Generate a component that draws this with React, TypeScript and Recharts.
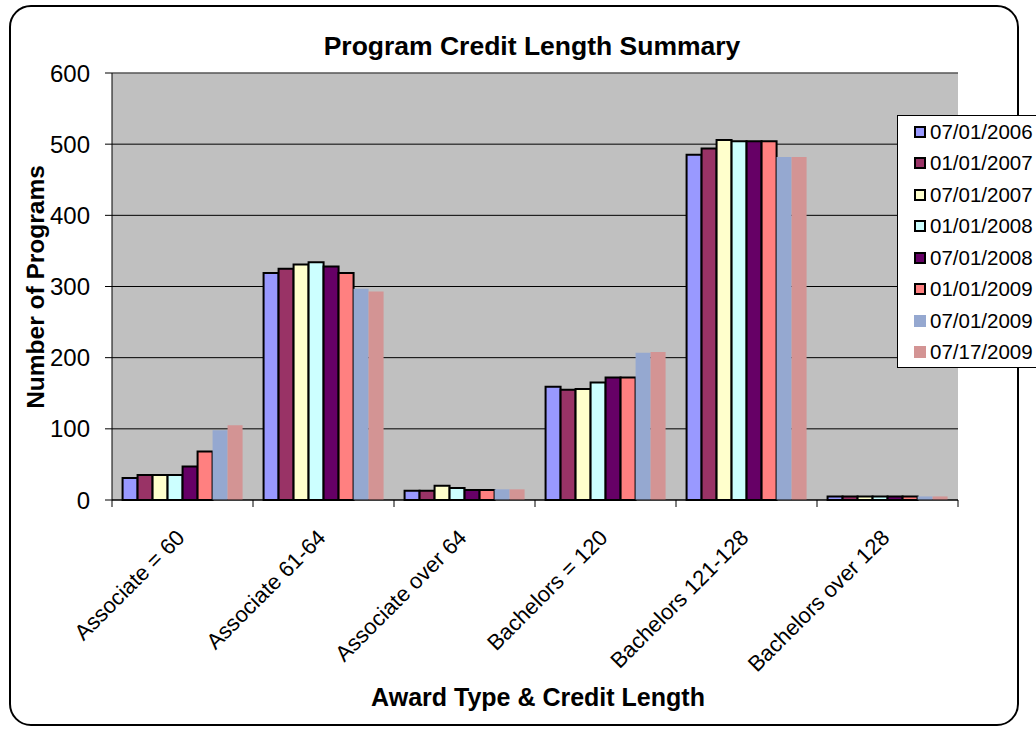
import React from 'react';
import { BarChart, Bar, XAxis, YAxis, CartesianGrid, ReferenceLine } from 'recharts';

const categories = [
  'Associate = 60',
  'Associate 61-64',
  'Associate over 64',
  'Bachelors = 120',
  'Bachelors 121-128',
  'Bachelors over 128',
];

const seriesNames = [
  '07/01/2006',
  '01/01/2007',
  '07/01/2007',
  '01/01/2008',
  '07/01/2008',
  '01/01/2009',
  '07/01/2009',
  '07/17/2009',
];

const v20060701 = [31, 319, 13, 159, 485, 5];
const v20070101 = [35, 325, 13, 155, 494, 5];
const v20070701 = [35, 331, 20, 156, 506, 5];
const v20080101 = [35, 334, 17, 165, 504, 5];
const v20080701 = [47, 328, 14, 172, 504, 5];
const v20090101 = [68, 319, 14, 172, 504, 5];
const v20090701 = [98, 297, 15, 207, 482, 5];
const v20090717 = [105, 293, 15, 208, 482, 5];

const seriesValues = [v20060701, v20070101, v20070701, v20080101, v20080701, v20090101, v20090701, v20090717];

const seriesColors = ['#9999FF', '#993366', '#FFFFCC', '#CCFFFF', '#660066', '#FF8080', '#95A8D0', '#D39494'];
const seriesOutlined = [true, true, true, true, true, true, false, false];

const yTicks = [0, 100, 200, 300, 400, 500, 600];

const data = categories.map((name, i) => {
  const row: Record<string, string | number> = { name };
  seriesValues.forEach((vals, s) => {
    row['s' + s] = vals[i];
  });
  return row;
});

const FONT = '"Liberation Sans", Arial, sans-serif';

const CatTick = (props: any) => {
  const { x, y, payload, index } = props;
  const half = payload && payload.offset != null ? payload.offset : 0;
  const isLast = index === categories.length - 1;
  return (
    <g>
      <line x1={x - half} x2={x - half} y1={y} y2={y + 7} stroke="#000" strokeWidth={1} />
      {isLast && <line x1={x + half} x2={x + half} y1={y} y2={y + 7} stroke="#000" strokeWidth={1} />}
      <text
        x={x + 3.5}
        y={y + 39}
        transform={`rotate(-45, ${x + 3.5}, ${y + 39})`}
        textAnchor="end"
        fontSize={22}
        fontFamily={FONT}
        fill="#000"
      >
        {payload.value}
      </text>
    </g>
  );
};

export default function App() {
  return (
    <div
      style={{
        position: 'absolute',
        left: 0,
        top: 0,
        width: 1036,
        height: 730,
        overflow: 'hidden',
        background: '#fff',
        fontFamily: FONT,
      }}
    >
      <div
        style={{
          position: 'absolute',
          left: 9,
          top: 5,
          width: 1010,
          height: 721,
          border: '2px solid #000',
          borderRadius: 22,
          boxSizing: 'border-box',
        }}
      />
      <div style={{ position: 'absolute', left: 0, top: 0 }}>
        <BarChart
          width={1036}
          height={730}
          data={data}
          margin={{ top: 73, right: 78, bottom: 30, left: 0 }}
          barCategoryGap="7.5%"
          barGap={0}
        >
          <CartesianGrid vertical={false} stroke="#000" fill="#C0C0C0" fillOpacity={1} />
          <XAxis
            dataKey="name"
            height={200}
            interval={0}
            tickSize={0}
            tickMargin={0}
            tickLine={false}
            axisLine={{ stroke: '#000' }}
            tick={<CatTick />}
          />
          <YAxis
            domain={[0, 600]}
            ticks={yTicks}
            interval={0}
            width={112}
            tickSize={7}
            tickMargin={15}
            axisLine={{ stroke: '#000' }}
            tickLine={{ stroke: '#000' }}
            tick={{ fontSize: 24, fill: '#000', fontFamily: FONT }}
          />
          <YAxis
            yAxisId="right"
            orientation="right"
            domain={[0, 600]}
            width={0}
            tick={false}
            tickLine={false}
            axisLine={{ stroke: '#808080' }}
          />
          <ReferenceLine y={600} stroke="#808080" />
          {seriesNames.map((n, s) => (
            <Bar
              key={n}
              dataKey={'s' + s}
              name={n}
              fill={seriesColors[s]}
              stroke={seriesOutlined[s] ? '#000' : 'none'}
              strokeWidth={seriesOutlined[s] ? 2 : 0}
              isAnimationActive={false}
            />
          ))}
        </BarChart>
      </div>
      <div
        style={{
          position: 'absolute',
          left: 0,
          width: 1064,
          top: 31,
          textAlign: 'center',
          fontSize: 26.5,
          fontWeight: 'bold',
          lineHeight: '30px',
        }}
      >
        Program Credit Length Summary
      </div>
      <div
        style={{
          position: 'absolute',
          left: 0,
          width: 1076,
          top: 682,
          textAlign: 'center',
          fontSize: 25,
          fontWeight: 'bold',
          lineHeight: '30px',
        }}
      >
        Award Type &amp; Credit Length
      </div>
      <div
        style={{
          position: 'absolute',
          left: 36,
          top: 287,
          transform: 'translate(-50%, -50%) rotate(-90deg)',
          whiteSpace: 'nowrap',
          fontSize: 24.5,
          fontWeight: 'bold',
          lineHeight: '28px',
        }}
      >
        Number of Programs
      </div>
      <div
        style={{
          position: 'absolute',
          left: 897,
          top: 115,
          width: 160,
          height: 253,
          background: '#fff',
          border: '1.5px solid #000',
          boxSizing: 'border-box',
        }}
      >
        {seriesNames.map((n, s) => (
          <div
            key={n}
            style={{
              height: 31.5,
              display: 'flex',
              alignItems: 'center',
              paddingLeft: 16,
              whiteSpace: 'nowrap',
              fontSize: 20.5,
            }}
          >
            <span
              style={{
                display: 'inline-block',
                width: 12,
                height: 12,
                boxSizing: 'border-box',
                background: seriesColors[s],
                border: seriesOutlined[s] ? '2px solid #000' : 'none',
                marginRight: 4,
              }}
            />
            <span>{n}</span>
          </div>
        ))}
      </div>
    </div>
  );
}
